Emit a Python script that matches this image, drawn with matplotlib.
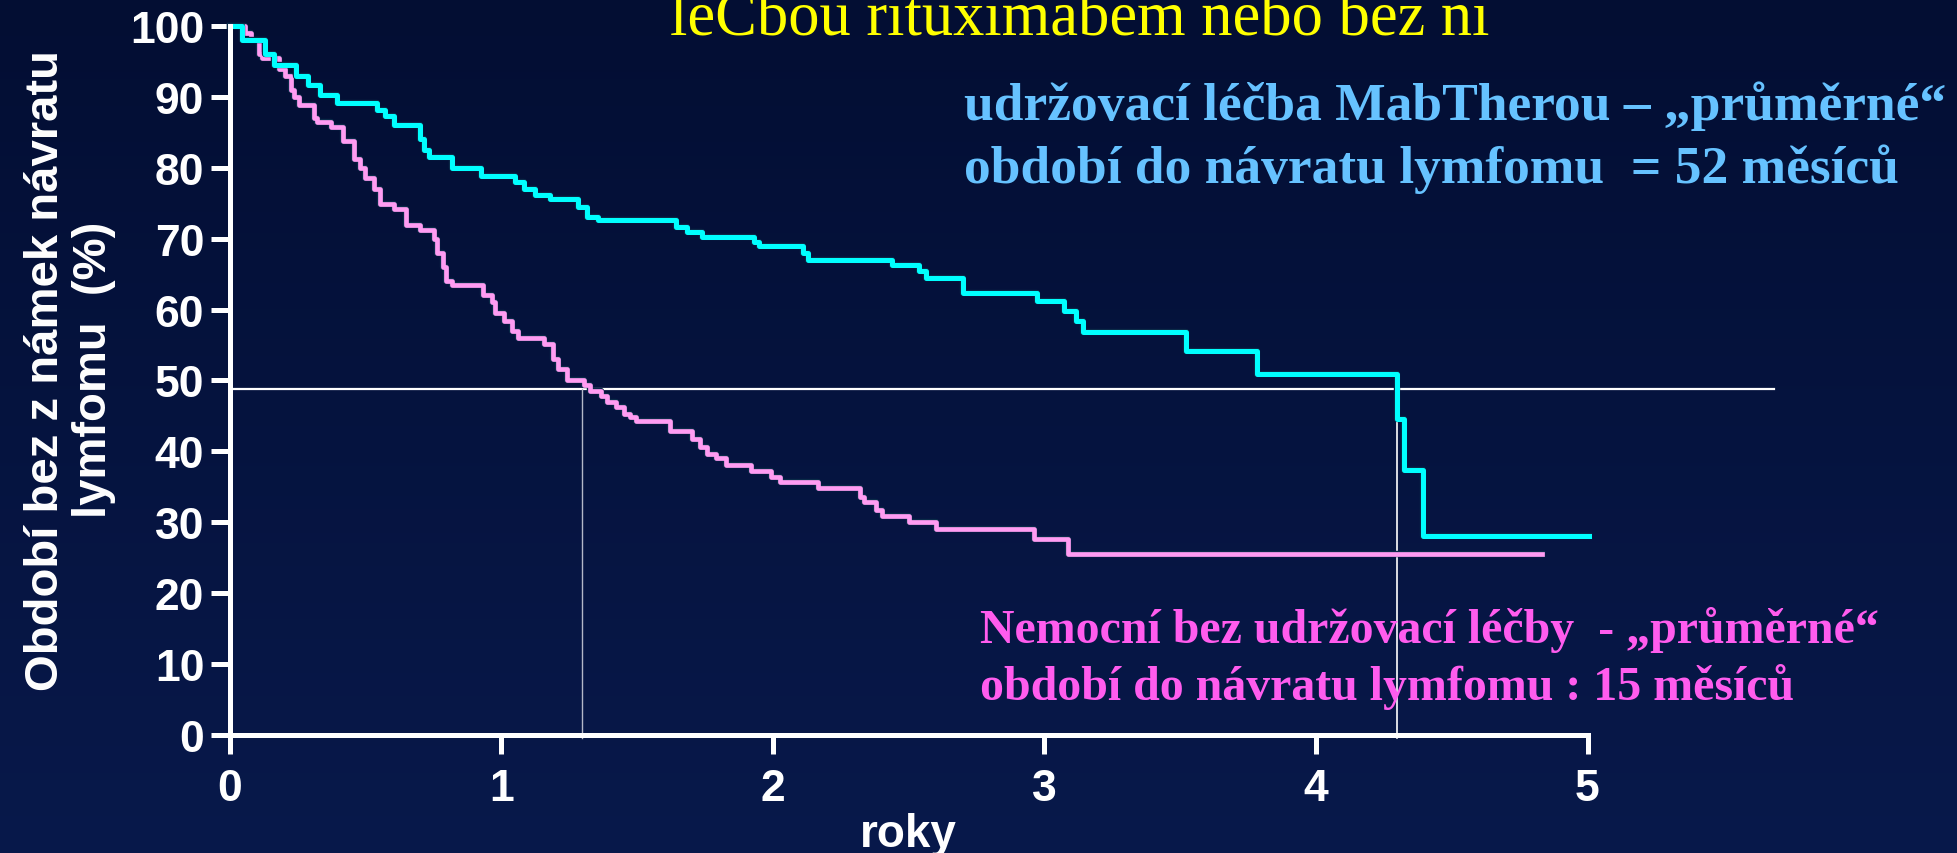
import numpy as np
import matplotlib
matplotlib.use('Agg')
import matplotlib.pyplot as plt
import matplotlib.patheffects as pe
from matplotlib.colors import LinearSegmentedColormap

# Kaplan-Meier curves (years, % without relapse)
rituximab_t = [0, 0.044, 0.128, 0.161, 0.245, 0.288, 0.330, 0.394, 0.542, 0.570,
               0.605, 0.700, 0.715, 0.732, 0.817, 0.923, 1.050, 1.082, 1.124, 1.177,
               1.283, 1.315, 1.357, 1.643, 1.685, 1.738, 1.930, 1.950, 2.109, 2.130,
               2.437, 2.538, 2.564, 2.700, 2.973, 3.073, 3.115, 3.140, 3.521, 3.782,
               4.298, 4.325, 4.395, 5.005]
rituximab_s = [100, 98, 96, 94.5, 93, 91.7, 90.3, 89.2, 88.2, 87.3,
               86.1, 84, 82.5, 81.5, 80.0, 78.9, 78, 77, 76.2, 75.6,
               74.5, 73.1, 72.6, 71.7, 71, 70.3, 69.5, 68.9, 68, 67,
               66.3, 65.4, 64.4, 62.3, 61.2, 59.8, 58.4, 56.9, 54.2, 50.9,
               44.6, 37.4, 28.0, 28.0]

observation_t = [0, 0.055, 0.076, 0.108, 0.118, 0.182, 0.203, 0.224, 0.235, 0.256,
                 0.309, 0.319, 0.372, 0.415, 0.457, 0.478, 0.499, 0.531, 0.552, 0.605,
                 0.647, 0.700, 0.753, 0.764, 0.785, 0.796, 0.817, 0.933, 0.965, 0.976,
                 1.008, 1.040, 1.061, 1.156, 1.188, 1.209, 1.241, 1.304, 1.325, 1.368,
                 1.389, 1.421, 1.452, 1.473, 1.495, 1.622, 1.700, 1.730, 1.756, 1.790,
                 1.826, 1.920, 1.991, 2.026, 2.167, 2.320, 2.335, 2.380, 2.402, 2.500,
                 2.600, 2.961, 3.086, 4.831]
observation_s = [100, 99, 98, 96, 95.5, 94, 93, 91, 90, 88.9,
                 87, 86.4, 85.7, 83.8, 81.2, 80, 78.5, 77, 74.9, 74.2,
                 71.9, 71.2, 70, 68, 66, 64, 63.5, 62, 61, 59.5,
                 58.4, 57, 56, 55.1, 53, 51.6, 50.0, 49.3, 48.5, 47.8,
                 46.9, 46.2, 45.3, 44.8, 44.3, 42.9, 41.8, 40.6, 39.7, 39.0,
                 38.1, 37.3, 36.4, 35.7, 34.8, 33.6, 32.9, 31.8, 30.9, 30.0,
                 29.0, 27.6, 25.5, 25.5]

median_level = 48.8
median_observation = 1.295
median_rituximab = 4.30

x_ticks = [0, 1, 2, 3, 4, 5]
y_ticks = [0, 10, 20, 30, 40, 50, 60, 70, 80, 90, 100]

title = 'léCbou rituximabem nebo bez ní'
blue_lines = ['udržovací léčba MabTherou – „průměrné“',
              'období do návratu lymfomu  = 52 měsíců']
pink_lines = ['Nemocní bez udržovací léčby  - „průměrné“',
              'období do návratu lymfomu : 15 měsíců']

SANS = ['Liberation Sans', 'DejaVu Sans']
SERIF = ['Liberation Serif', 'DejaVu Serif']
CYAN = '#00ffff'
PINK = '#ff9cf2'

fig = plt.figure(figsize=(19.57, 8.54), dpi=100)

# dark blue slide background with a faint vertical gradient
bg = fig.add_axes([0, 0, 1, 1], zorder=-10)
cmap = LinearSegmentedColormap.from_list('slide', ['#030e33', '#08194b'])
bg.imshow(np.linspace(0, 1, 256).reshape(-1, 1), aspect='auto', cmap=cmap,
          extent=[0, 1, 0, 1])
bg.axis('off')

ax = fig.add_axes([0.1175, 0.1382, 0.8112 - 0.1175, 0.9684 - 0.1382])
ax.set_facecolor('none')

# median reference lines
ax.plot([0, 5.687], [median_level, median_level], color='white', lw=1.6,
        clip_on=False, zorder=2)
ax.plot([median_observation, median_observation], [-0.4, median_level],
        color='#b4b8c8', lw=1.0, clip_on=False, zorder=2)
ax.plot([median_rituximab, median_rituximab], [-0.4, median_level],
        color='white', lw=1.2, clip_on=False, zorder=2)

edge = [pe.Stroke(linewidth=4.6, foreground='#0a2a48'), pe.Normal()]
ax.step(observation_t, observation_s, where='post', color=PINK, lw=3.4,
        clip_on=False, zorder=3, path_effects=edge)
ax.step(rituximab_t, rituximab_s, where='post', color=CYAN, lw=3.6,
        clip_on=False, zorder=4, path_effects=edge)

ax.set_xlim(0, 5)
ax.set_ylim(0, 100)
ax.set_xticks(x_ticks)
ax.set_yticks(y_ticks)

for side in ['top', 'right']:
    ax.spines[side].set_visible(False)
for side in ['left', 'bottom']:
    ax.spines[side].set_color('white')
    ax.spines[side].set_linewidth(3.6)
    ax.spines[side].set_zorder(5)

ax.tick_params(axis='both', direction='out', length=13.5, width=3.6,
               colors='white', labelsize=32)
ax.tick_params(axis='x', pad=10)
ax.tick_params(axis='y', pad=5)
for lbl in ax.get_xticklabels() + ax.get_yticklabels():
    lbl.set_family(SANS)
    lbl.set_fontweight('bold')

ax.set_xlabel('roky', family=SANS, fontweight='bold', fontsize=33, color='white')
ax.xaxis.set_label_coords(0.5, -0.1566)
ax.xaxis.label.set_va('baseline')

ax.set_ylabel('Období bez z námek návratu\nlymfomu  (%)', family=SANS,
              fontweight='bold', fontsize=34, color='white', linespacing=1.1,
              multialignment='center')
ax.yaxis.set_label_coords(-0.1179, 0.516)
ax.yaxis.label.set_va('center')

# slide title (cut by the top edge) and the two annotations
fig.text(670 / 1957, 1 - 35 / 854, title, family=SERIF, fontsize=45,
         color='#ffff00', ha='left', va='baseline')
for i, line in enumerate(blue_lines):
    fig.text(964 / 1957, 1 - (120 + 63 * i) / 854, line, family=SERIF,
             fontweight='bold', fontsize=38.5, color='#66c2ff',
             ha='left', va='baseline')
for i, line in enumerate(pink_lines):
    fig.text(979.5 / 1957, 1 - (643 + 57 * i) / 854, line, family=SERIF,
             fontweight='bold', fontsize=34.5, color='#ff5cee',
             ha='left', va='baseline')

fig.savefig('out.png', dpi=100)
